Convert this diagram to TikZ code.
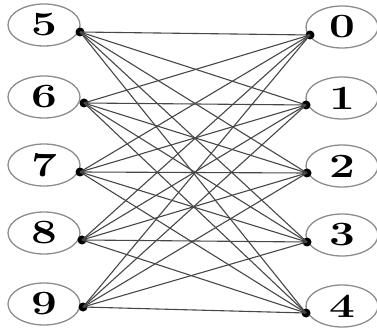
\documentclass[tikz,border=0pt]{standalone}
\usepackage{fontspec}
\usepackage{graphicx}
\usetikzlibrary{shapes.geometric}
\newcommand{\wdig}[1]{\scalebox{1.35}[1]{#1}}
\begin{document}
\begin{tikzpicture}[x=1pt,y=-1pt,
  vert/.style={ellipse,draw=black!45,line width=1.3pt,minimum width=72pt,minimum height=42pt,inner sep=0pt,font=\fontsize{34}{34}\selectfont\bfseries},
  port/.style={circle,fill=black,inner sep=0pt,minimum size=9pt},
  edge/.style={black!72,line width=1.1pt}]
\useasboundingbox (0,0) rectangle (377,328);
\node[vert] (n5) at (44,25) {\wdig{5}};
\node[vert] (n6) at (44,97) {\wdig{6}};
\node[vert] (n7) at (44,165) {\wdig{7}};
\node[vert] (n8) at (44,233) {\wdig{8}};
\node[vert] (n9) at (44,304) {\wdig{9}};
\node[vert] (n0) at (342,27) {\wdig{0}};
\node[vert] (n1) at (342,98) {\wdig{1}};
\node[vert] (n2) at (342,166) {\wdig{2}};
\node[vert] (n3) at (342,235) {\wdig{3}};
\node[vert] (n4) at (342,306) {\wdig{4}};
\node[port] (p5) at (80,32) {};
\node[port] (p6) at (84,103) {};
\node[port] (p7) at (80,172) {};
\node[port] (p8) at (82,240) {};
\node[port] (p9) at (83,307) {};
\node[port] (p0) at (310,35) {};
\node[port] (p1) at (306,105) {};
\node[port] (p2) at (307,173) {};
\node[port] (p3) at (307,242) {};
\node[port] (p4) at (306,313) {};
\foreach \l in {5,6,7,8,9}{
  \foreach \r in {0,1,2,3,4}{
    \draw[edge] (p\l.center) -- (p\r.center);
  }
}
\end{tikzpicture}
\end{document}
